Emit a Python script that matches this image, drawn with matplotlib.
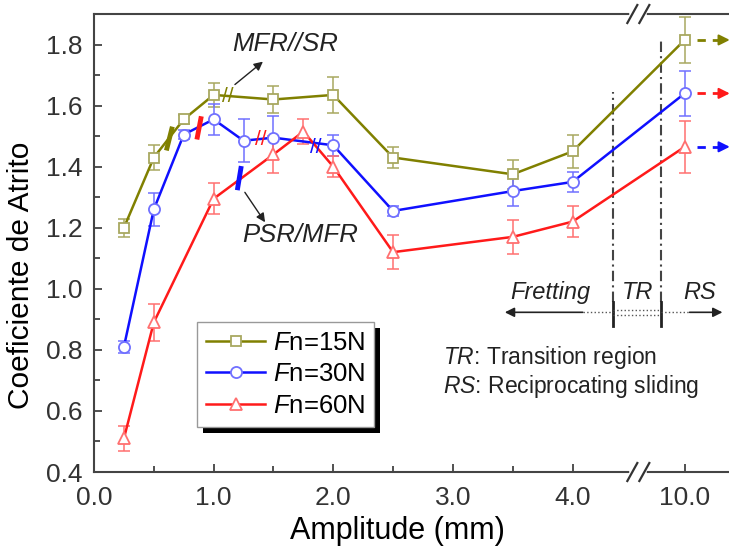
import numpy as np
import matplotlib
matplotlib.use("Agg")
import matplotlib.pyplot as plt
from matplotlib.patches import Rectangle
from matplotlib.ticker import FixedLocator, FixedFormatter

plt.rcParams['font.family'] = 'Liberation Sans'
plt.rcParams['mathtext.fontset'] = 'custom'
plt.rcParams['mathtext.rm'] = 'Liberation Sans'
plt.rcParams['mathtext.it'] = 'Liberation Sans:italic'

# friction coefficient vs. amplitude for each normal load
amp15 = [0.25, 0.5, 0.75, 1.0, 1.5, 2.0, 2.5, 3.5, 4.0, 10.0]
cof15 = [1.20, 1.43, 1.555, 1.635, 1.62, 1.635, 1.43, 1.375, 1.45, 1.815]
err15 = [0.03, 0.04, 0.015, 0.04, 0.045, 0.06, 0.035, 0.047, 0.055, 0.075]

amp30 = [0.25, 0.5, 0.75, 1.0, 1.25, 1.5, 2.0, 2.5, 3.5, 4.0, 10.0]
cof30 = [0.81, 1.26, 1.505, 1.555, 1.485, 1.495, 1.47, 1.255, 1.32, 1.35, 1.64]
err30 = [0.02, 0.055, 0.015, 0.05, 0.07, 0.07, 0.035, 0.015, 0.05, 0.033, 0.073]

amp60 = [0.25, 0.5, 1.0, 1.5, 1.75, 2.0, 2.5, 3.5, 4.0, 10.0]
cof60 = [0.51, 0.89, 1.295, 1.44, 1.515, 1.40, 1.12, 1.17, 1.22, 1.465]
err60 = [0.04, 0.06, 0.05, 0.06, 0.04, 0.035, 0.055, 0.055, 0.05, 0.085]

xticks = [0.0, 1.0, 2.0, 3.0, 4.0, 10.0]
xtick_labels = ['0.0', '1.0', '2.0', '3.0', '4.0', '10.0']
xminor = [0.5, 1.5, 2.5, 3.5]

# broken x axis: linear up to brk, compressed afterwards
brk = 4.55
k = 0.0711


def fwd(x):
    x = np.asarray(x, dtype=float)
    return np.where(x <= brk, x, brk + (x - brk) * k)


def inv(x):
    x = np.asarray(x, dtype=float)
    return np.where(x <= brk, x, brk + (x - brk) / k)


olive, olive_l = '#808000', '#a8a860'
blue, blue_l = '#1010ff', '#7070ff'
red, red_l = '#ff1a1a', '#ff7070'
ink = '#222222'

fig = plt.figure(figsize=(7.29, 5.48), dpi=100)
ax = fig.add_axes([94 / 729, 76 / 548, 652 / 729, 458 / 548])
ax.set_xscale('function', functions=(fwd, inv))
ax.set_xlim(0, float(inv(5.45)))
ax.set_ylim(0.4, 1.9)

series = [
    (amp15, cof15, err15, olive, olive_l, 's', 7, r'$\mathit{F}$n=15N'),
    (amp30, cof30, err30, blue, blue_l, 'o', 8, r'$\mathit{F}$n=30N'),
    (amp60, cof60, err60, red, red_l, '^', 8.5, r'$\mathit{F}$n=60N'),
]
for x, y, e, c, cl, m, ms, lab in series:
    ax.errorbar(x, y, yerr=e, fmt='none', ecolor=cl, elinewidth=1.1,
                capsize=4, capthick=1.1, zorder=3)
    ax.plot(x, y, color=c, lw=1.8, marker=m, ms=ms, mfc='white', mec=cl,
            mew=1.3, label=lab, zorder=4)

# gap in the curves where the axis is broken
fb = float((fwd(brk) - 0) / 5.45)
ax.add_patch(Rectangle((fb - 6 / 652, 1.28), 12 / 652, 0.5,
                       transform=ax.get_yaxis_transform(), color='white',
                       zorder=3.5, lw=0))

# axis break marks on the top and bottom spines
for ya in (0.0, 1.0):
    ax.plot([fb - 6 / 652, fb + 6 / 652], [ya, ya], color='white', lw=4,
            transform=ax.transAxes, clip_on=False, zorder=10)
    for dx in (-6, 6):
        x0 = fb + (dx - 5) / 652
        x1 = fb + (dx + 5) / 652
        ax.plot([x0, x1], [ya - 9 / 458, ya + 9 / 458], color='#333333',
                lw=1.6, transform=ax.transAxes, clip_on=False, zorder=11)

# regime boundaries
x_tr1, x_tr2 = 4.336, 7.18
ax.plot([x_tr1, x_tr1], [0.956, 1.646], color='#444444', lw=1.5,
        dashes=(5, 2, 1, 2))
ax.plot([x_tr2, x_tr2], [0.956, 1.822], color='#444444', lw=1.5,
        dashes=(5, 2, 1, 2))
for xv in (x_tr1, x_tr2):
    ax.plot([xv, xv], [0.878, 0.956], color=ink, lw=2)
for yv in (0.931, 0.914):
    ax.plot([x_tr1, x_tr2], [yv, yv], color='#555555', lw=1, ls=':')
ax.plot([4.085, x_tr1], [0.923, 0.923], color='#555555', lw=1, ls=':')
ax.plot([x_tr2, 10.58], [0.923, 0.923], color='#555555', lw=1, ls=':')
ax.annotate('', xy=(3.434, 0.923), xytext=(4.085, 0.923),
            arrowprops=dict(arrowstyle='-|>', color=ink, lw=1.2,
                            mutation_scale=14, shrinkA=0, shrinkB=0))
ax.annotate('', xy=(14.44, 0.923), xytext=(10.58, 0.923),
            arrowprops=dict(arrowstyle='-|>', color=ink, lw=1.2,
                            mutation_scale=14, shrinkA=0, shrinkB=0))
ax.text(3.818, 0.989, 'Fretting', style='italic', fontsize=17,
        ha='center', va='center', color=ink)
ax.text(4.54, 0.989, 'TR', style='italic', fontsize=17,
        ha='center', va='center', color=ink)
ax.text(11.77, 0.989, 'RS', style='italic', fontsize=17,
        ha='center', va='center', color=ink)
ax.text(2.916, 0.776, r'$\mathit{TR}$: Transition region', fontsize=16.5,
        ha='left', va='center', color=ink)
ax.text(2.916, 0.681, r'$\mathit{RS}$: Reciprocating sliding', fontsize=16.5,
        ha='left', va='center', color=ink)

# dashed arrows continuing past the last amplitude
for yv, c in ((cof15[-1], olive), (cof30[-1], red), (cof60[-1], blue)):
    ax.plot([11.4, 14.6], [yv, yv], color=c, lw=2, dashes=(3, 2.5),
            clip_on=False)
    ax.annotate('', xy=(15.3, yv), xytext=(14.3, yv),
                arrowprops=dict(arrowstyle='-|>', color=c, lw=1.5,
                                mutation_scale=16, shrinkA=0, shrinkB=0))

# transition markers on the curves
ax.plot([0.655, 0.605], [1.531, 1.453], color=olive, lw=3.5,
        solid_capstyle='butt', zorder=5)
ax.plot([0.897, 0.860], [1.565, 1.489], color=red, lw=3.5,
        solid_capstyle='butt', zorder=5)
ax.plot([1.231, 1.198], [1.402, 1.323], color=blue, lw=3.5,
        solid_capstyle='butt', zorder=5)
ax.text(1.12, 1.63, '//', color=olive, fontsize=15, ha='center',
        va='center', zorder=5)
ax.text(1.39, 1.489, '//', color=red, fontsize=15, ha='center',
        va='center', zorder=5)
ax.text(1.855, 1.463, '//', color=blue, fontsize=15, ha='center',
        va='center', zorder=5)

ax.text(1.6, 1.802, 'MFR//SR', style='italic', fontsize=18.5, ha='center',
        va='center', color=ink)
ax.annotate('', xy=(1.412, 1.744), xytext=(1.178, 1.669),
            arrowprops=dict(arrowstyle='-|>', color=ink, lw=1,
                            mutation_scale=13, shrinkA=0, shrinkB=0))
ax.text(1.72, 1.175, 'PSR/MFR', style='italic', fontsize=18.5, ha='center',
        va='center', color=ink)
ax.annotate('', xy=(1.43, 1.218), xytext=(1.261, 1.316),
            arrowprops=dict(arrowstyle='-|>', color=ink, lw=1,
                            mutation_scale=13, shrinkA=0, shrinkB=0))

# axes styling
ax.xaxis.set_major_locator(FixedLocator(xticks))
ax.xaxis.set_major_formatter(FixedFormatter(xtick_labels))
ax.xaxis.set_minor_locator(FixedLocator(xminor))
ax.set_yticks(np.arange(0.4, 1.81, 0.2))
ax.set_yticklabels(['%.1f' % v for v in np.arange(0.4, 1.81, 0.2)])
ax.set_yticks(np.arange(0.5, 1.91, 0.2), minor=True)
ax.tick_params(which='both', direction='in', colors='#333333',
               labelcolor='#333333', labelsize=19, width=1.2)
ax.tick_params(which='major', length=6)
ax.tick_params(which='minor', length=4)
ax.tick_params(axis='y', pad=8)
ax.tick_params(axis='x', pad=10)
for s in ('top', 'left', 'bottom'):
    ax.spines[s].set_color('#444444')
    ax.spines[s].set_linewidth(1.5)
ax.spines['right'].set_visible(False)

ax.set_xlabel('Amplitude (mm)', fontsize=22, color='black')
ax.set_ylabel('Coeficiente de Atrito', fontsize=21.5, color='black')
ax.xaxis.set_label_coords(0.466, -0.095)
ax.yaxis.set_label_coords(-0.09, 0.43)

leg = ax.legend(loc='lower left', bbox_to_anchor=(0.158, 0.098),
                borderaxespad=0, fontsize=18.5, frameon=True, fancybox=False,
                framealpha=1, edgecolor='#999999', handlelength=2.3,
                handletextpad=0.3, labelspacing=0.3, borderpad=0.35)
leg.get_frame().set_linewidth(1)
leg.set_zorder(20)

# drop shadow behind the legend box
fig.canvas.draw()
bb = leg.get_window_extent()
shadow = Rectangle((bb.x0 + 6, bb.y0 - 6), bb.width, bb.height,
                   transform=None, color='black', zorder=19, lw=0)
ax.add_artist(shadow)

fig.savefig('out.png', dpi=100)
